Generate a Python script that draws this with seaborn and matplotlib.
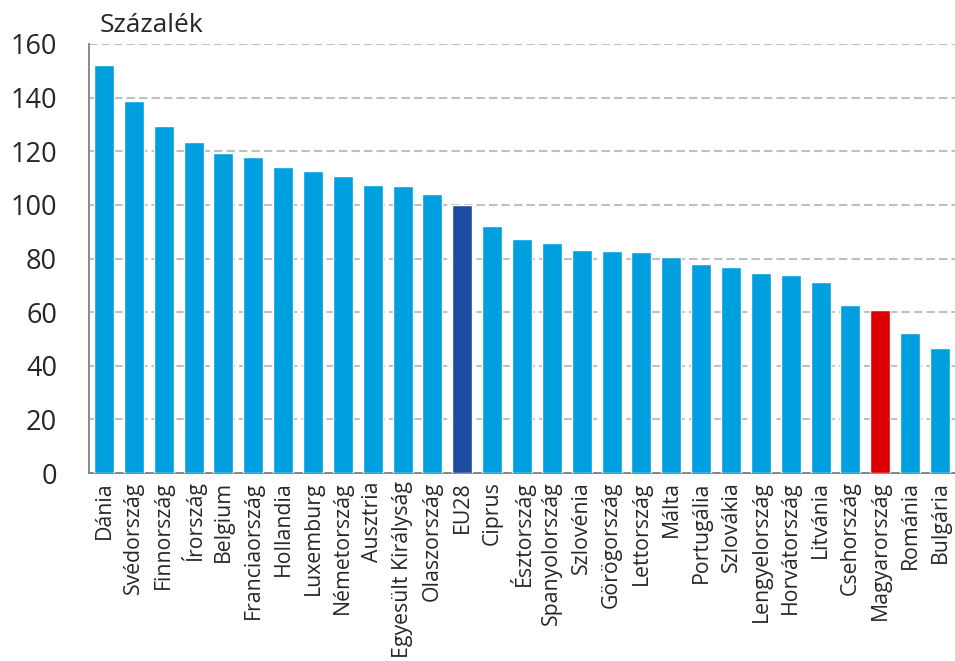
import matplotlib
matplotlib.use('Agg')
import matplotlib.pyplot as plt
import seaborn as sns
import pandas as pd

#%% Adatok

orszagok = ['Dánia', 'Svédország', 'Finnország', 'Írország', 'Belgium', 'Franciaország',
            'Hollandia', 'Luxemburg', 'Németország', 'Ausztria', 'Egyesült Királyság',
            'Olaszország', 'EU28', 'Ciprus', 'Észtország', 'Spanyolország', 'Szlovénia',
            'Görögország', 'Lettország', 'Málta', 'Portugália', 'Szlovákia',
            'Lengyelország', 'Horvátország', 'Litvánia', 'Csehország', 'Magyarország',
            'Románia', 'Bulgária']
ertekek = [152.2, 138.8, 129.5, 123.5, 119.4, 117.9, 114.2, 112.7, 110.8, 107.5, 107.1,
           104.1, 100.0, 92.2, 87.2, 85.7, 83.1, 82.7, 82.5, 80.4, 77.8, 76.9, 74.6, 74.0,
           71.4, 62.7, 60.8, 52.2, 46.5]

kiemelt = {'EU28': '#1C4BA0', 'Magyarország': '#DC0000'}
alap_szin = '#009FE0'

df = pd.DataFrame({'Orszag': orszagok, 'Ertek': ertekek})
szinek = [kiemelt.get(o, alap_szin) for o in orszagok]

#%% Ábra

sns.set_style('white')
plt.rcParams['font.family'] = ['Open Sans', 'DejaVu Sans']

fig = plt.figure(figsize=(9.55, 6.61), dpi=100)
ax = fig.add_axes([89/955, 1 - 473/661, 1 - 89/955, (473 - 44)/661])

sns.barplot(data=df, x='Orszag', y='Ertek', hue='Orszag', palette=szinek,
            legend=False, width=0.67, saturation=1, ax=ax, zorder=3)

ax.set_ylim(0, 160)
ax.set_xlim(-0.5, 28.43)
ax.set_yticks(range(0, 161, 20))
ax.yaxis.grid(True, color='#BFBFBF', linestyle=(0, (4, 2)), linewidth=1.5, zorder=0)
ax.set_axisbelow(True)

ax.set_xlabel('')
ax.set_ylabel('')
for s in ['top', 'right']:
    ax.spines[s].set_visible(False)
for s in ['left', 'bottom']:
    ax.spines[s].set_color('#808080')
    ax.spines[s].set_linewidth(1.3)

ax.tick_params(axis='y', labelsize=19.5, length=9, width=1.3, color='#808080', pad=14, direction='out')
ax.tick_params(axis='x', which='major', labelsize=15.3, length=0, pad=6, labelrotation=90)
ax.set_xticks([i + 0.5 for i in range(-1, len(orszagok))], minor=True)
ax.tick_params(axis='x', which='minor', length=7, width=1.3, color='#808080', direction='out')

fig.text(100/955, 1 - 25/661, 'Százalék', fontsize=19, va='center', ha='left')

fig.savefig('out.png', dpi=100)
